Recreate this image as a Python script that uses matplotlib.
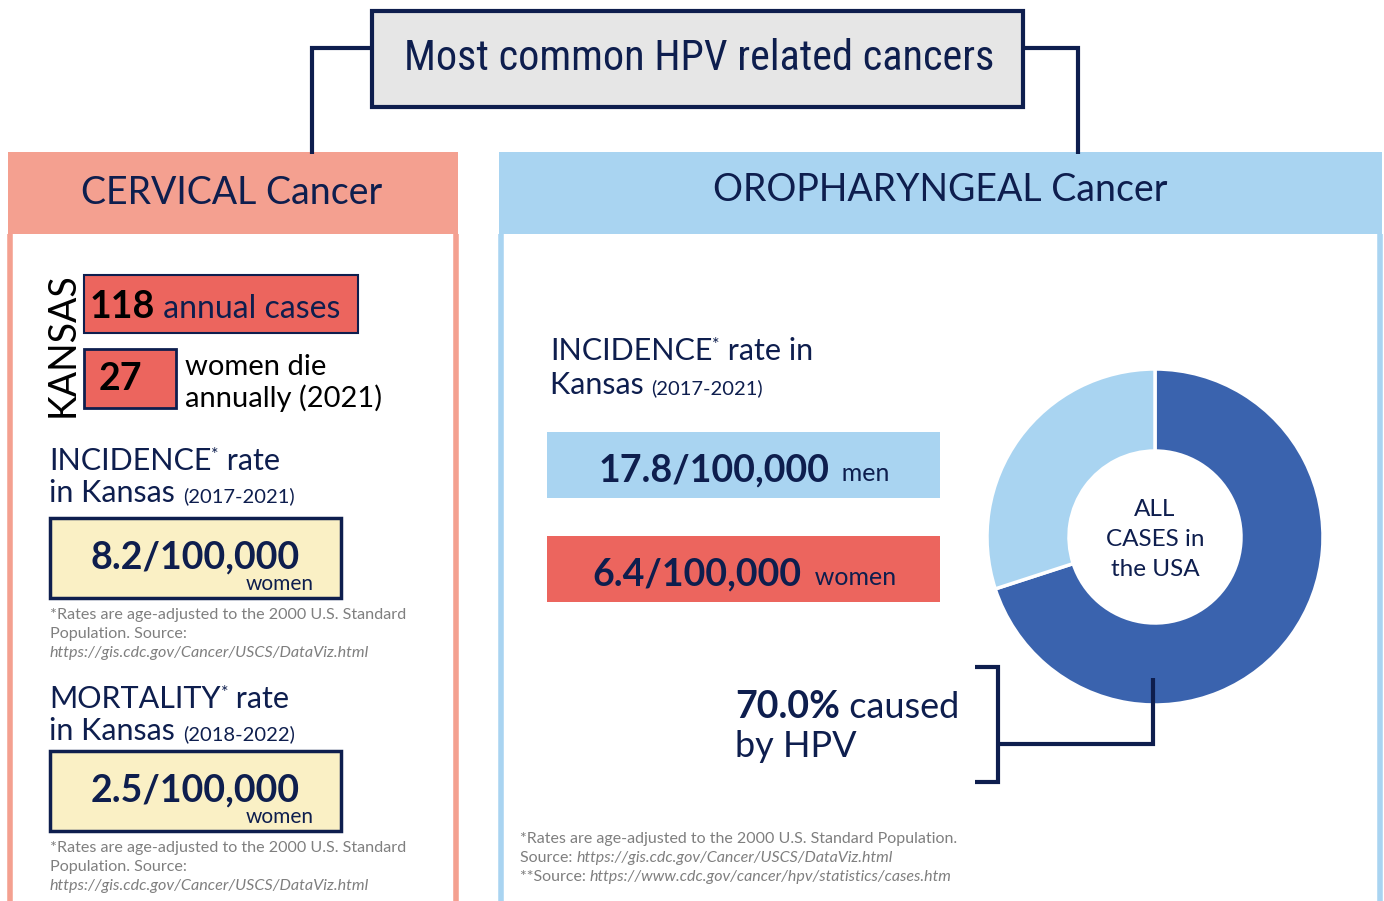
import matplotlib
matplotlib.use("Agg")
import matplotlib.pyplot as plt
from matplotlib.patches import Rectangle

# ---- data ----
title = "Most common HPV related cancers"
panels = ["CERVICAL Cancer", "OROPHARYNGEAL Cancer"]
kansas_cases = "118"
kansas_deaths = "27"
cerv_incidence = "8.2/100,000"
cerv_mortality = "2.5/100,000"
oro_incidence_men = "17.8/100,000"
oro_incidence_women = "6.4/100,000"
hpv_share = [70.0, 30.0]  # caused by HPV, other
note_rates = "*Rates are age-adjusted to the 2000 U.S. Standard"
url_uscs = "https://gis.cdc.gov/Cancer/USCS/DataViz.html"
url_hpv = "https://www.cdc.gov/cancer/hpv/statistics/cases.htm"

NAVY = "#0E1E4E"
SALMON = "#F4A090"
LBLUE = "#A9D4F1"
RED = "#EC655E"
YELLOW = "#FAF0C5"
GRAY = "#7F7F7F"
DBLUE = "#3A63AE"
FONT = "Lato"

W, H = 1384, 901
fig = plt.figure(figsize=(W / 100, H / 100), dpi=100)
ax = fig.add_axes([0, 0, 1, 1])
ax.set_xlim(0, W)
ax.set_ylim(H, 0)
ax.axis("off")
rend = fig.canvas.get_renderer()


def rect(x0, y0, x1, y1, fc, ec="none", lw=0, z=1):
    ax.add_patch(Rectangle((x0, y0), x1 - x0, y1 - y0, facecolor=fc,
                           edgecolor=ec, linewidth=lw, zorder=z))


def line(xs, ys, c=NAVY, lw=3, z=2):
    ax.plot(xs, ys, color=c, lw=lw, solid_capstyle="butt",
            solid_joinstyle="miter", zorder=z)


def runs(x, y, parts, ha="left"):
    # parts: (text, size, weight, style, color[, raise_px]) on one baseline
    arts = []
    for p in parts:
        txt, size, weight, style, color = p[:5]
        dy = p[5] if len(p) > 5 else 0
        t = ax.text(0, y - dy, txt, fontsize=size, fontweight=weight, fontstyle=style,
                    color=color, family=FONT, va="baseline", ha="left", zorder=5)
        arts.append(t)
    widths = [a.get_window_extent(rend).width for a in arts]
    total = sum(widths)
    cx = x - total / 2 if ha == "center" else (x - total if ha == "right" else x)
    for a, w in zip(arts, widths):
        a.set_x(cx)
        cx += w
    return arts


# ---- title + connectors ----
rect(372, 11, 1023, 107, "#E6E6E6", NAVY, 3, z=3)
tt = ax.text(699, 59, title, fontsize=36, color=NAVY, ha="center", va="center",
             family=["Roboto Condensed", "Roboto"], fontstretch="condensed", zorder=5)
tt.set_fontsize(36 * 591 / tt.get_window_extent(rend).width)
line([372, 312, 312], [48, 48, 154])
line([1023, 1078, 1078], [48, 48, 154])

# ---- panels ----
rect(8, 152, 458, 234, SALMON, z=1)
line([10, 10], [234, 905], c=SALMON, lw=4)
line([456, 456], [234, 905], c=SALMON, lw=4)
ax.text(232, 193, panels[0], fontsize=27, color=NAVY, family=FONT,
        ha="center", va="center", zorder=5)

rect(499, 152, 1382, 234, LBLUE, z=1)
line([501, 501], [234, 905], c=LBLUE, lw=4)
line([1380, 1380], [234, 905], c=LBLUE, lw=4)
ax.text(940, 190, panels[1], fontsize=27, color=NAVY, family=FONT,
        ha="center", va="center", zorder=5)

# ---- left panel: Kansas counts ----
ax.text(63, 345, "KANSAS", fontsize=27, color="black", family=FONT, rotation=90,
        ha="center", va="center", zorder=5)
rect(84, 275, 358, 333, RED, NAVY, 1.5, z=2)
runs(90, 318, [(kansas_cases, 27, "bold", "normal", "black"),
               (" annual cases", 23, "normal", "normal", NAVY)])
rect(84, 349, 176, 408, RED, NAVY, 2, z=2)
runs(120, 390, [(kansas_deaths, 27, "bold", "normal", "black")], ha="center")
runs(185, 375, [("women die", 21, "normal", "normal", "black")])
runs(185, 407, [("annually (2021)", 21, "normal", "normal", "black")])

FN = 11.6


def rate_block(y_head, label, years, value, y_box):
    runs(49, y_head, [(label, 22, "normal", "normal", NAVY),
                      ("*", 13, "normal", "normal", NAVY, 10),
                      (" rate", 22, "normal", "normal", NAVY)])
    runs(49, y_head + 32, [("in Kansas ", 22, "normal", "normal", NAVY),
                           (years, 14.5, "normal", "normal", NAVY)])
    rect(50, y_box, 341, y_box + 80, YELLOW, NAVY, 2.5, z=2)
    runs(195, y_box + 50, [(value, 27, "bold", "normal", NAVY)], ha="center")
    runs(314, y_box + 72, [("women", 15, "normal", "normal", NAVY)], ha="right")
    fy = y_box + 101
    runs(50, fy, [(note_rates, FN, "normal", "normal", GRAY)])
    runs(50, fy + 19, [("Population. Source:", FN, "normal", "normal", GRAY)])
    runs(50, fy + 38, [(url_uscs, FN, "normal", "italic", GRAY)])


rate_block(470, "INCIDENCE", "(2017-2021)", cerv_incidence, 518)
rate_block(708, "MORTALITY", "(2018-2022)", cerv_mortality, 751)

# ---- right panel ----
runs(550, 360, [("INCIDENCE", 22, "normal", "normal", NAVY),
                ("*", 13, "normal", "normal", NAVY, 10),
                (" rate in", 22, "normal", "normal", NAVY)])
runs(550, 394, [("Kansas ", 22, "normal", "normal", NAVY),
                ("(2017-2021)", 14.5, "normal", "normal", NAVY)])
rect(547, 432, 940, 498, LBLUE, z=2)
runs(744, 481, [(oro_incidence_men, 27, "bold", "normal", NAVY),
                ("  men", 18, "normal", "normal", NAVY)], ha="center")
rect(547, 536, 940, 602, RED, z=2)
runs(744, 585, [(oro_incidence_women, 27, "bold", "normal", NAVY),
                ("  women", 18, "normal", "normal", NAVY)], ha="center")

runs(735, 718, [(f"{hpv_share[0]:.1f}%", 27, "bold", "normal", NAVY),
                (" caused", 26, "normal", "normal", NAVY)])
runs(735, 757, [("by HPV", 26, "normal", "normal", NAVY)])

# bracket + connector into donut
line([975, 998, 998, 975], [667, 667, 782, 782])
line([998, 1153, 1153], [744, 744, 678], z=6)

fy = 843
FN2 = 11.5
runs(520, fy, [("*Rates are age-adjusted to the 2000 U.S. Standard Population.", FN2, "normal", "normal", GRAY)])
runs(520, fy + 19, [("Source: ", FN2, "normal", "normal", GRAY),
                    (url_uscs, FN2, "normal", "italic", GRAY)])
runs(520, fy + 38, [("**Source: ", FN2, "normal", "normal", GRAY),
                    (url_hpv, FN2, "normal", "italic", GRAY)])

# ---- donut ----
cx, cy, r = 1155, 537, 170
pax = fig.add_axes([(cx - r) / W, (H - cy - r) / H, 2 * r / W, 2 * r / H])
pax.pie(hpv_share, colors=[DBLUE, LBLUE], startangle=90, counterclock=False,
        radius=168 / r, wedgeprops=dict(width=82 / r, edgecolor="white", linewidth=2.5))
pax.set_xlim(-1, 1)
pax.set_ylim(-1, 1)
pax.set_aspect("equal")
pax.axis("off")
pax.patch.set_alpha(0)
pax.set_zorder(ax.get_zorder() - 1)
ax.patch.set_alpha(0)
for i, s in enumerate(["ALL", "CASES in", "the USA"]):
    ax.text(cx, cy - 28 + 30 * i, s, fontsize=17.5, color=NAVY, family=FONT,
            ha="center", va="center", zorder=5)

fig.savefig("out.png", dpi=100, facecolor="white")
